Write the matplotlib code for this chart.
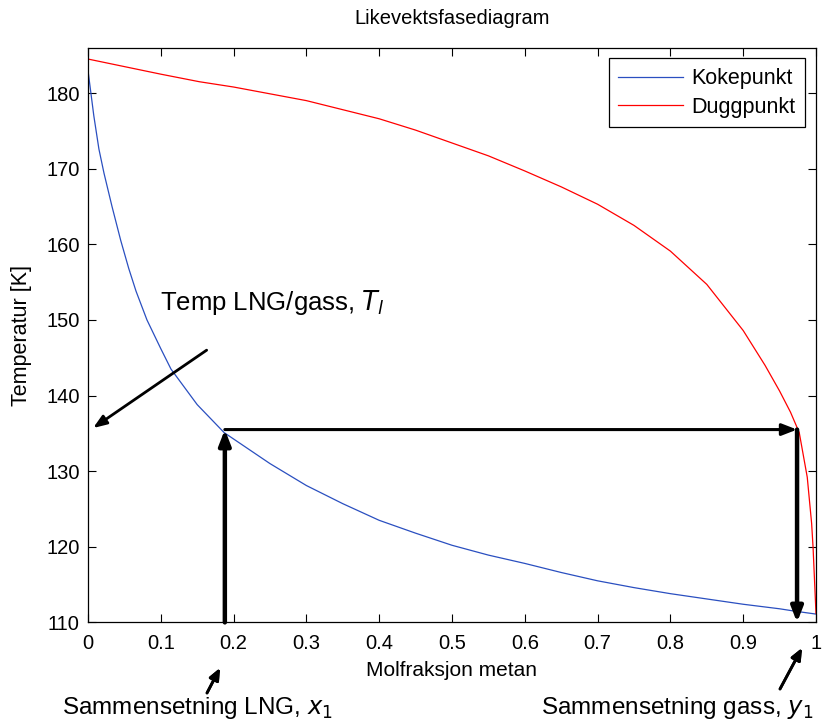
import matplotlib.pyplot as plt

# Kokepunkt (boiling point) curve
x_boil = [0.0, 0.004, 0.008, 0.015, 0.022, 0.033, 0.045, 0.056, 0.066, 0.081, 0.1, 0.114, 0.15,
          0.187, 0.25, 0.3, 0.35, 0.4, 0.45, 0.5, 0.55, 0.6, 0.65, 0.7, 0.75, 0.8, 0.85, 0.9,
          0.95, 0.97, 1.0]
t_boil = [183.0, 180.0, 177.0, 172.6, 169.4, 165.0, 160.5, 156.8, 153.8, 150.0, 146.2, 143.5, 138.8,
          135.1, 131.0, 128.1, 125.7, 123.5, 121.8, 120.2, 118.9, 117.8, 116.6, 115.5, 114.6, 113.8,
          113.1, 112.4, 111.8, 111.5, 111.1]

# Duggpunkt (dew point) curve
x_dew = [0.0, 0.05, 0.1, 0.153, 0.2, 0.25, 0.3, 0.35, 0.4, 0.45, 0.5, 0.55, 0.6, 0.65, 0.7,
         0.75, 0.8, 0.85, 0.9, 0.93, 0.95, 0.965, 0.977, 0.988, 0.994, 0.996, 1.0]
t_dew = [184.5, 183.5, 182.5, 181.5, 180.8, 179.9, 179.0, 177.8, 176.6, 175.1, 173.4, 171.7, 169.7,
         167.6, 165.3, 162.5, 159.1, 154.7, 148.6, 144.0, 140.6, 137.8, 135.1, 129.2, 123.1, 119.9, 111.2]

x1 = 0.188
y1 = 0.974
T1 = 135.5

FONT = "Liberation Sans"
plt.rcParams['font.family'] = FONT

fig = plt.figure(figsize=(8.34, 7.26), dpi=100)
ax = fig.add_axes([0.1055, 0.1427, 0.8729, 0.7916])

ax.plot(x_boil, t_boil, color='#2a4fc0', lw=0.9, label='Kokepunkt')
ax.plot(x_dew, t_dew, color='#ff0000', lw=0.9, label='Duggpunkt')

ax.set_xlim(0, 1)
ax.set_ylim(110, 186)
ax.set_xticks([0, 0.1, 0.2, 0.3, 0.4, 0.5, 0.6, 0.7, 0.8, 0.9, 1])
ax.set_xticklabels(['0', '0.1', '0.2', '0.3', '0.4', '0.5', '0.6', '0.7', '0.8', '0.9', '1'])
ax.set_yticks(range(110, 181, 10))
ax.tick_params(direction='in', top=True, right=True, length=6, labelsize=14.5)
ax.tick_params(axis='x', pad=8)
ax.tick_params(axis='y', pad=6)
for s in ax.spines.values():
    s.set_linewidth(0.9)

ax.set_xlabel('Molfraksjon metan', fontsize=15, labelpad=6)
ax.set_ylabel('Temperatur [K]', fontsize=15.5, labelpad=10)
ax.set_title('Likevektsfasediagram', fontsize=14.5, pad=17)

leg = ax.legend(loc='upper right', fontsize=15.5, fancybox=False, framealpha=1,
                edgecolor='black', handlelength=3.0, handletextpad=0.4,
                labelspacing=0.35, borderpad=0.45, borderaxespad=0.5)
leg.get_frame().set_linewidth(0.9)

# construction arrows
thick = dict(arrowstyle='-|>,head_length=0.9,head_width=0.35', color='black', lw=3.2,
             shrinkA=0, shrinkB=0)
thin = dict(arrowstyle='-|>,head_length=0.9,head_width=0.35', color='black', lw=2.2,
            shrinkA=0, shrinkB=0)
ax.annotate('', xy=(x1, T1), xytext=(x1, 110), arrowprops=thick)
ax.annotate('', xy=(y1, T1), xytext=(x1, T1), arrowprops=thin)
ax.annotate('', xy=(y1, 110), xytext=(y1, T1), arrowprops=thick)

# text annotations
ax.text(0.099, 152.3, 'Temp LNG/gass, $T_l$', fontsize=18.5, ha='left', va='center')
ax.annotate('', xy=(0.007, 135.7), xytext=(0.163, 146.0),
            arrowprops=dict(arrowstyle='-|>,head_length=0.8,head_width=0.3', color='black',
                            lw=2, shrinkA=0, shrinkB=0))

fig.text(62 / 834, 0.016, 'Sammensetning LNG, $x_1$', fontsize=17.5, ha='left', va='baseline')
fig.text(541 / 834, 0.016, 'Sammensetning gass, $y_1$', fontsize=17.5, ha='left', va='baseline')
fig.add_artist(plt.annotate('', xy=(220 / 834, 1 - 668 / 726), xytext=(207 / 834, 1 - 693 / 726),
                            xycoords='figure fraction', textcoords='figure fraction',
                            arrowprops=dict(arrowstyle='-|>,head_length=0.7,head_width=0.3',
                                            color='black', lw=2, shrinkA=0, shrinkB=0)))
fig.add_artist(plt.annotate('', xy=(802 / 834, 1 - 648 / 726), xytext=(780 / 834, 1 - 689 / 726),
                            xycoords='figure fraction', textcoords='figure fraction',
                            arrowprops=dict(arrowstyle='-|>,head_length=0.7,head_width=0.3',
                                            color='black', lw=2, shrinkA=0, shrinkB=0)))

plt.savefig('out.png', dpi=100, facecolor='white')
plt.close()
